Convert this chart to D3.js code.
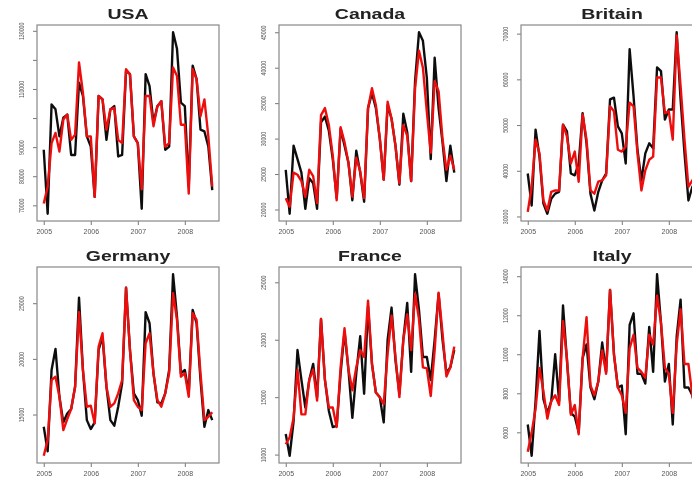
<!DOCTYPE html>
<html>
<head>
<meta charset="utf-8">
<script src="https://cdn.jsdelivr.net/npm/d3@7"></script>
<style>
  body { margin: 0; background: #fff; }
  text { font-family: "Liberation Sans", Arial, sans-serif; }
</style>
</head>
<body>
<div id="chart"></div>
<script>
// Monthly series, Jan 2005 - Aug 2008 (thousands)
var countries = ["USA", "Canada", "Britain", "Germany", "France", "Italy"];
var startYear = 2005;
var yearTicks = [2005, 2006, 2007, 2008];

var usaActual = [89.1, 67.1, 104.7, 103.0, 93.7, 100.1, 101.2, 87.3, 87.3, 112.2, 107.6, 93.7, 90.2, 72.9, 107.6, 106.4, 92.5, 103.0, 104.1, 86.8, 87.3, 116.2, 115.1, 93.7, 91.4, 68.8, 115.1, 111.0, 98.3, 104.1, 105.8, 89.1, 90.2, 129.5, 123.8, 105.3, 104.1, 76.4, 118.0, 113.4, 96.0, 95.4, 90.2, 75.2];
var usaFitted = [70.6, 76.4, 91.4, 94.9, 88.5, 99.5, 101.2, 92.5, 94.3, 119.1, 108.7, 93.7, 93.7, 72.9, 107.6, 106.4, 96.0, 103.0, 103.5, 92.5, 91.4, 116.8, 115.1, 93.7, 91.4, 75.5, 107.6, 107.6, 97.2, 104.1, 105.8, 90.2, 91.4, 117.4, 114.5, 97.7, 97.7, 74.0, 116.8, 113.4, 100.6, 106.4, 93.7, 76.4];

var canadaActual = [25.6, 19.4, 29.0, 27.1, 25.2, 20.1, 24.4, 23.7, 20.1, 32.3, 33.1, 31.1, 27.1, 21.6, 31.4, 29.0, 26.6, 21.3, 28.3, 25.2, 21.1, 34.3, 36.4, 34.3, 30.0, 24.2, 34.7, 32.8, 29.0, 23.5, 33.5, 30.9, 24.0, 38.1, 45.0, 43.8, 38.6, 27.1, 41.4, 34.3, 29.5, 24.0, 29.0, 25.2];
var canadaFitted = [21.6, 20.4, 25.2, 24.9, 24.0, 21.8, 25.6, 24.7, 20.9, 33.3, 34.3, 31.9, 27.6, 21.3, 31.6, 29.5, 26.6, 21.8, 27.3, 25.4, 21.6, 34.3, 37.1, 34.7, 30.0, 24.2, 35.2, 32.8, 29.0, 23.7, 31.9, 30.4, 24.0, 37.1, 42.4, 40.0, 33.8, 28.0, 38.1, 36.7, 30.0, 25.6, 27.6, 25.6];

var britainActual = [39.4, 32.4, 49.0, 43.1, 32.8, 30.6, 33.9, 35.0, 35.4, 50.1, 48.6, 39.4, 39.0, 41.6, 52.6, 46.0, 35.0, 31.3, 35.4, 37.9, 39.4, 55.6, 56.0, 49.7, 48.2, 41.6, 66.6, 56.3, 44.6, 37.9, 43.8, 46.0, 44.9, 62.6, 61.8, 51.2, 53.4, 53.4, 70.3, 55.6, 43.8, 33.5, 36.5, 37.9];
var britainFitted = [31.0, 36.5, 46.8, 43.8, 33.5, 31.3, 35.4, 35.7, 35.7, 50.1, 47.5, 41.6, 44.2, 37.6, 52.3, 46.8, 35.7, 35.0, 37.6, 37.9, 39.0, 54.1, 53.0, 44.6, 44.2, 45.3, 54.9, 54.1, 43.8, 35.7, 40.1, 42.4, 43.1, 60.4, 60.4, 52.6, 53.0, 46.8, 69.6, 58.5, 46.8, 36.5, 37.9, 39.4];

var germanyActual = [13.9, 11.7, 19.0, 20.9, 16.6, 14.3, 15.1, 15.5, 17.5, 25.5, 19.0, 14.5, 13.7, 14.3, 20.8, 22.0, 17.5, 14.5, 14.0, 15.7, 17.8, 26.4, 20.8, 16.9, 16.3, 14.9, 24.2, 23.2, 18.7, 16.1, 16.0, 16.9, 19.0, 27.6, 23.8, 18.7, 19.0, 16.9, 24.4, 23.2, 18.1, 13.9, 15.4, 14.5];
var germanyFitted = [11.3, 12.7, 18.1, 18.4, 16.6, 13.6, 14.6, 15.5, 17.5, 24.2, 19.0, 15.7, 15.8, 14.2, 21.1, 22.3, 17.5, 15.7, 16.0, 16.9, 18.1, 26.4, 20.8, 16.3, 15.7, 15.4, 21.4, 22.3, 18.7, 16.3, 15.7, 16.9, 18.7, 25.9, 23.5, 18.4, 18.7, 16.6, 24.1, 23.5, 18.7, 14.5, 14.8, 15.2];

var franceActual = [11.8, 9.9, 12.9, 19.1, 16.5, 14.1, 16.5, 17.9, 15.0, 21.8, 16.5, 13.8, 12.4, 12.5, 17.1, 20.7, 17.4, 13.2, 17.1, 20.3, 15.3, 22.9, 17.9, 15.4, 15.0, 12.8, 20.0, 22.8, 18.2, 15.3, 20.0, 23.2, 17.2, 25.7, 22.6, 18.5, 18.5, 16.5, 20.0, 24.0, 20.0, 17.1, 17.6, 19.1];
var franceFitted = [10.9, 11.5, 13.2, 17.4, 13.5, 13.5, 16.5, 17.4, 14.7, 21.8, 16.5, 14.1, 14.1, 12.4, 17.6, 21.0, 17.4, 15.6, 17.6, 19.1, 18.5, 23.4, 17.9, 15.4, 15.0, 14.4, 18.8, 22.1, 18.5, 15.0, 20.0, 22.2, 19.1, 24.0, 21.8, 17.6, 17.5, 15.1, 19.1, 24.1, 20.6, 16.8, 17.6, 19.4];

var italyActual = [6.4, 4.8, 7.6, 11.2, 7.7, 7.0, 7.6, 10.0, 7.6, 12.5, 9.7, 7.0, 6.8, 6.0, 9.8, 10.5, 8.3, 7.7, 8.6, 10.6, 9.1, 13.3, 10.0, 8.3, 8.4, 5.9, 11.5, 12.1, 9.0, 9.0, 8.5, 11.4, 9.1, 14.1, 11.6, 8.6, 9.5, 6.4, 10.9, 12.8, 8.3, 8.3, 7.9, 6.9];
var italyFitted = [5.0, 6.0, 7.2, 9.3, 8.1, 6.7, 7.6, 7.9, 7.4, 11.7, 9.8, 6.9, 7.4, 5.9, 9.8, 11.9, 8.4, 7.9, 8.6, 10.2, 9.0, 13.3, 10.0, 8.3, 7.9, 7.0, 10.3, 11.0, 9.3, 9.1, 8.8, 11.0, 10.5, 13.0, 11.6, 9.3, 9.0, 7.0, 10.5, 12.3, 9.5, 9.5, 7.9, 7.2];

// y tick values and which of them get a label (R drops overlapping ones)
var usaTicks = [70000, 80000, 90000, 100000, 110000, 120000, 130000];
var usaLabels = [70000, 80000, 90000, 110000, 130000];
var canadaTicks = [20000, 25000, 30000, 35000, 40000, 45000];
var britainTicks = [30000, 40000, 50000, 60000, 70000];
var germanyTicks = [15000, 20000, 25000];
var franceTicks = [10000, 15000, 20000, 25000];
var italyTicks = [6000, 8000, 10000, 12000, 14000];

var actuals = [usaActual, canadaActual, britainActual, germanyActual, franceActual, italyActual];
var fitteds = [usaFitted, canadaFitted, britainFitted, germanyFitted, franceFitted, italyFitted];
var ticks = [usaTicks, canadaTicks, britainTicks, germanyTicks, franceTicks, italyTicks];
var labels = [usaLabels, canadaTicks, britainTicks, germanyTicks, franceTicks, italyTicks];

var svgWidth = 692;
var svgHeight = 480;

// panel boxes
var colLeft = [37, 279, 521];
var rowTop = [25, 267];
var panelWidth = 182;
var panelHeight = 196;

var svg = d3.select("#chart")
  .append("svg")
  .attr("width", svgWidth)
  .attr("height", svgHeight);

// the reference is a soft, scaled scan - a light blur gets closer to it
svg.append("defs")
  .append("filter")
  .attr("id", "soft")
  .append("feGaussianBlur")
  .attr("stdDeviation", 0.45);

var root = svg.append("g").attr("filter", "url(#soft)");

root.append("rect")
  .attr("width", svgWidth)
  .attr("height", svgHeight)
  .attr("fill", "#fff");

// R style axis padding: 4% on both sides
function padded(ext) {
  var d = (ext[1] - ext[0]) * 0.04;
  return [ext[0] - d, ext[1] + d];
}

countries.forEach(function(name, k) {
  var px = colLeft[k % 3];
  var py = rowTop[Math.floor(k / 3)];

  var actual = actuals[k].map(function(v, i) { return { t: startYear + i / 12, v: v * 1000 }; });
  var fitted = fitteds[k].map(function(v, i) { return { t: startYear + i / 12, v: v * 1000 }; });

  var xScale = d3.scaleLinear()
    .domain(padded(d3.extent(actual, d => d.t)))
    .range([0, panelWidth]);

  var yScale = d3.scaleLinear()
    .domain(padded(d3.extent(actual.concat(fitted), d => d.v)))
    .range([panelHeight, 0]);

  var g = root.append("g")
    .attr("transform", `translate(${px}, ${py})`);

  // title
  g.append("text")
    .attr("transform", `translate(${panelWidth / 2}, -6) scale(1.3, 1)`)
    .attr("text-anchor", "middle")
    .style("font-size", "15px")
    .style("font-weight", "bold")
    .style("fill", "#222")
    .text(name);

  // axes
  var bottomAxis = d3.axisBottom(xScale)
    .tickValues(yearTicks)
    .tickSize(4)
    .tickFormat(d3.format("d"));

  var xg = g.append("g")
    .attr("transform", `translate(0, ${panelHeight})`)
    .call(bottomAxis);
  xg.select(".domain").remove();
  xg.selectAll("line").attr("stroke", "#777");
  xg.selectAll("text")
    .attr("y", 8)
    .style("font-size", "7px")
    .style("fill", "#555");

  var leftAxis = d3.axisLeft(yScale)
    .tickValues(ticks[k])
    .tickSize(4)
    .tickFormat(d => labels[k].indexOf(d) >= 0 ? d : "");

  var yg = g.append("g").call(leftAxis);
  yg.select(".domain").remove();
  yg.selectAll("line").attr("stroke", "#777");
  yg.selectAll("text")
    .attr("x", null)
    .attr("dy", null)
    .attr("text-anchor", "middle")
    .attr("transform", "translate(-13, 0) rotate(-90) scale(0.75, 1)")
    .style("font-size", "7px")
    .style("fill", "#555");

  // box
  g.append("rect")
    .attr("width", panelWidth)
    .attr("height", panelHeight)
    .attr("fill", "none")
    .attr("stroke", "#888")
    .attr("stroke-width", 1.2);

  var clipId = "clip" + k;
  g.append("clipPath")
    .attr("id", clipId)
    .append("rect")
    .attr("width", svgWidth - px)
    .attr("height", panelHeight);

  var line = d3.line()
    .x(d => xScale(d.t))
    .y(d => yScale(d.v));

  g.append("path")
    .datum(actual)
    .attr("clip-path", `url(#${clipId})`)
    .attr("d", line)
    .attr("fill", "none")
    .attr("stroke", "#111")
    .attr("stroke-width", 2.4)
    .attr("stroke-linejoin", "round");

  g.append("path")
    .datum(fitted)
    .attr("clip-path", `url(#${clipId})`)
    .attr("d", line)
    .attr("fill", "none")
    .attr("stroke", "#ee1111")
    .attr("stroke-width", 2.4)
    .attr("stroke-linejoin", "round");
});
</script>
</body>
</html>
